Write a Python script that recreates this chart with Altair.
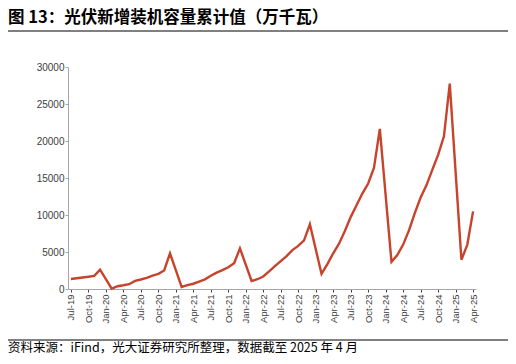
import altair as alt
import pandas as pd

title_text = "图 13：光伏新增装机容量累计值（万千瓦）"
source_text = "资料来源：iFind，光大证券研究所整理，数据截至 2025 年 4 月"

mon = ["Jan", "Feb", "Mar", "Apr", "May", "Jun", "Jul", "Aug", "Sep", "Oct", "Nov", "Dec"]
months = [f"{m}-19" for m in mon[6:]]
for yy in ["20", "21", "22", "23", "24"]:
    months += [f"{m}-{yy}" for m in mon]
months += [f"{m}-25" for m in mon[:4]]

v2019 = [1350, 1450, 1560, 1650, 1780, 2620]
v2020 = [None, 40, 370, 500, 650, 1100, 1280, 1500, 1800, 2050, 2500, 4820]
v2021 = [None, 270, 533, 711, 1000, 1301, 1783, 2206, 2556, 2931, 3479, 5488]
v2022 = [None, 1086, 1321, 1688, 2371, 3088, 3775, 4447, 5260, 5824, 6571, 8741]
v2023 = [None, 2037, 3366, 4831, 6121, 7842, 9716, 11316, 12894, 14256, 16388, 21630]
v2024 = [None, 3667, 4574, 6000, 7915, 10248, 12353, 14010, 16088, 18130, 20630, 27757]
v2025 = [None, 3947, 5971, 10493]

values = v2019 + v2020 + v2021 + v2022 + v2023 + v2024 + v2025
tick_labels = months[::3]

df = pd.DataFrame({"month": months, "value": values}).dropna()

line = alt.Chart(df).mark_line(color="#C8432B", strokeWidth=2.4).encode(
    x=alt.X("month:O", sort=months,
            scale=alt.Scale(domain=months, type="point", padding=0.5),
            axis=alt.Axis(values=tick_labels, labelAngle=-90, title=None,
                          labelFont="Liberation Sans", labelFontSize=9.5,
                          labelColor="#404040", domainColor="#a6a6a6",
                          tickColor="#404040", tickSize=3, labelPadding=2)),
    y=alt.Y("value:Q", scale=alt.Scale(domain=[0, 30000]),
            axis=alt.Axis(values=[0, 5000, 10000, 15000, 20000, 25000, 30000],
                          title=None, grid=False, format="d",
                          labelFont="Liberation Sans", labelFontSize=10,
                          labelColor="#404040", domainColor="#a6a6a6",
                          tickColor="#a6a6a6", tickSize=3, labelPadding=1)),
)

title = alt.Chart(pd.DataFrame({"t": [title_text]})).mark_text(
    align="left", baseline="alphabetic", font="Noto Sans CJK SC",
    fontSize=16.5, fontWeight="bold", color="#000000"
).encode(x=alt.value(-60), y=alt.value(-44), text="t:N")

title_rule = alt.Chart(pd.DataFrame({"a": [0]})).mark_rule(
    color="#000000", strokeWidth=1
).encode(x=alt.value(-61), x2=alt.value(440), y=alt.value(-36))

foot_rule = alt.Chart(pd.DataFrame({"a": [0]})).mark_rule(
    color="#000000", strokeWidth=1
).encode(x=alt.value(-61), x2=alt.value(440), y=alt.value(273))

foot = alt.Chart(pd.DataFrame({"t": [source_text]})).mark_text(
    align="left", baseline="alphabetic", font="Noto Sans CJK SC",
    fontSize=12.5, color="#000000"
).encode(x=alt.value(-60), y=alt.value(285), text="t:N")

chart = alt.layer(line, title, title_rule, foot_rule, foot).properties(
    width=408, height=222,
    autosize=alt.AutoSizeParams(type="none"),
    padding={"left": 60, "top": 59, "right": 32, "bottom": 67},
).configure_view(stroke=None)

chart.save("out.html", embed_options={"renderer": "svg", "actions": False})
